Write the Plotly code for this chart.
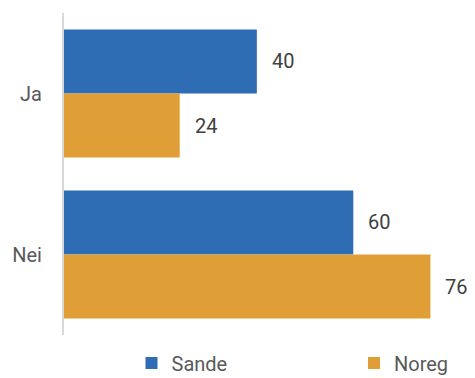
import plotly.graph_objects as go

categories = ["Ja", "Nei"]
sande = [40, 60]
noreg = [24, 76]
series_names = ["Sande", "Noreg"]

colors = ["#2E6DB4", "#E09F36"]
font_family = "Roboto, Liberation Sans, sans-serif"

fig = go.Figure()
legend_ids = ["legend", "legend2"]
for name, vals, col, lg in zip(series_names, [sande, noreg], colors, legend_ids):
    fig.add_trace(go.Bar(
        y=categories, x=vals, name=name, orientation="h",
        marker=dict(color=col, line=dict(width=0)),
        hoverinfo="skip", legend=lg,
    ))

# data labels as annotations positioned from data values
annotations = []
for i, vals in enumerate([sande, noreg]):
    for j, v in enumerate(vals):
        annotations.append(dict(
            x=v, y=j + (-0.2 if i == 0 else 0.2), xref="x", yref="y",
            text=str(v), showarrow=False, xanchor="left", xshift=13,
            font=dict(size=20, color="#404040", family=font_family),
        ))

legend_common = dict(
    orientation="h", yanchor="middle", y=-0.087, xanchor="left",
    itemwidth=30, bgcolor="rgba(0,0,0,0)",
    font=dict(size=20, color="#595959", family=font_family),
)

fig.update_layout(
    width=475, height=378,
    margin=dict(l=64, r=6, t=13, b=43, autoexpand=False),
    paper_bgcolor="white", plot_bgcolor="white",
    barmode="group", bargap=0.205, bargroupgap=0,
    showlegend=True,
    legend=dict(x=0.1667, **legend_common),
    legend2=dict(x=0.716, **legend_common),
    xaxis=dict(range=[0, 84], showgrid=False, zeroline=False,
               showticklabels=False, showline=False, ticks=""),
    yaxis=dict(type="category", autorange="reversed",
               showgrid=False, zeroline=False,
               showline=True, linecolor="#D9D9D9", linewidth=2,
               ticks="", ticklabelstandoff=16,
               tickfont=dict(size=20, color="#595959", family=font_family)),
    annotations=annotations,
)

fig.write_html("out.html", config={"displayModeBar": False},
               post_script="document.body.style.margin='0';document.body.style.overflow='hidden';")
